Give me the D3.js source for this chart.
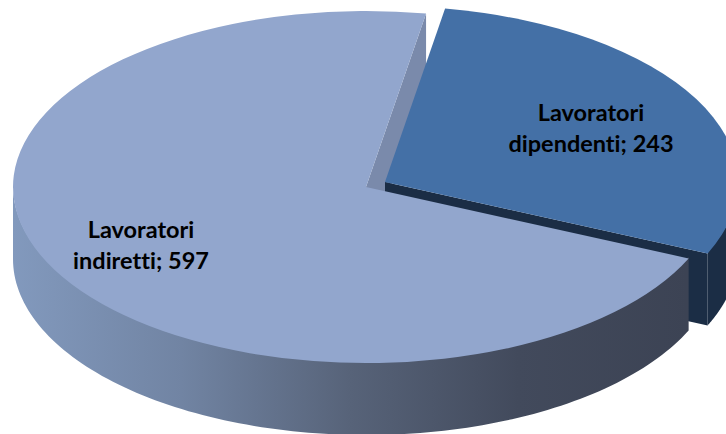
<!DOCTYPE html>
<html><head><meta charset="utf-8">
<script src="https://cdn.jsdelivr.net/npm/d3@7/dist/d3.min.js"></script>
<style>html,body{margin:0;padding:0;background:#fff;overflow:hidden}svg{display:block}</style>
</head><body><div id="c"></div>
<script>
const categories = ["Lavoratori dipendenti", "Lavoratori indiretti"];
const values = [243, 597];
const labelLines = [["Lavoratori", "dipendenti; 243"], ["Lavoratori", "indiretti; 597"]];

const W = 726, H = 434, rx = 353, ry = 176, depth = 72;
const TAU = Math.PI * 2, rot = 9.8 * Math.PI / 180;
const centers = [{x: 385, y: 182}, {x: 366, y: 187}];
const labelPos = [{x: 591, y: 121}, {x: 141, y: 238}];
const topFill = ["#4470a6", "#92a6cd"];

const svg = d3.select("#c").append("svg").attr("width", W).attr("height", H);
const defs = svg.append("defs");
const grad = defs.append("linearGradient").attr("id", "wall")
  .attr("gradientUnits", "userSpaceOnUse").attr("x1", 13).attr("x2", 687).attr("y1", 0).attr("y2", 0);
[[0, "#8299bd"], [0.25, "#7184a3"], [0.5, "#576379"], [0.75, "#424a5c"], [1, "#3c4354"]]
  .forEach(s => grad.append("stop").attr("offset", s[0]).attr("stop-color", s[1]));

const arcs = d3.pie().sort(null).value(d => d).startAngle(rot).endAngle(rot + TAU)(values);
const arcGen = d3.arc().innerRadius(0).outerRadius(rx);
const px = (c, a) => c.x + rx * Math.sin(a);
const py = (c, a) => c.y - ry * Math.cos(a);

function outerWall(i, fill) {
  const c = centers[i], a0 = Math.max(arcs[i].startAngle, Math.PI / 2),
        a1 = Math.min(arcs[i].endAngle, Math.PI * 1.5);
  const n = 120, pts = d3.range(n + 1).map(k => a0 + (a1 - a0) * k / n);
  svg.append("path").attr("fill", fill)
    .attr("d", d3.area().x(a => px(c, a)).y0(a => py(c, a) - 1.5).y1(a => py(c, a) + depth)(pts));
}
function cutWall(i, a, fill) {
  const c = centers[i];
  const pts = [[c.x, c.y], [px(c, a), py(c, a)], [px(c, a), py(c, a) + depth], [c.x, c.y + depth]];
  svg.append("path").attr("fill", fill).attr("d", d3.line()(pts) + "Z");
}
function topFace(i) {
  svg.append("path").attr("fill", topFill[i])
    .attr("transform", `translate(${centers[i].x},${centers[i].y}) scale(1,${ry / rx})`)
    .attr("d", arcGen(arcs[i]));
}

// back-to-front painting
cutWall(1, arcs[1].endAngle, "#7a8aab");
cutWall(0, arcs[0].endAngle, "#1b2d45");
outerWall(0, "#1b2d45");
topFace(0);
outerWall(1, "url(#wall)");
topFace(1);

labelLines.forEach((lines, i) => {
  const t = svg.append("text").attr("text-anchor", "middle")
    .attr("font-family", "Lato, Carlito, sans-serif").attr("font-weight", 700)
    .attr("font-size", 23.5).attr("fill", "#000")
    .style("font-variant-ligatures", "none");
  lines.forEach((l, k) => t.append("tspan").attr("x", labelPos[i].x).attr("y", labelPos[i].y + k * 30.5).text(l));
});
</script></body></html>
